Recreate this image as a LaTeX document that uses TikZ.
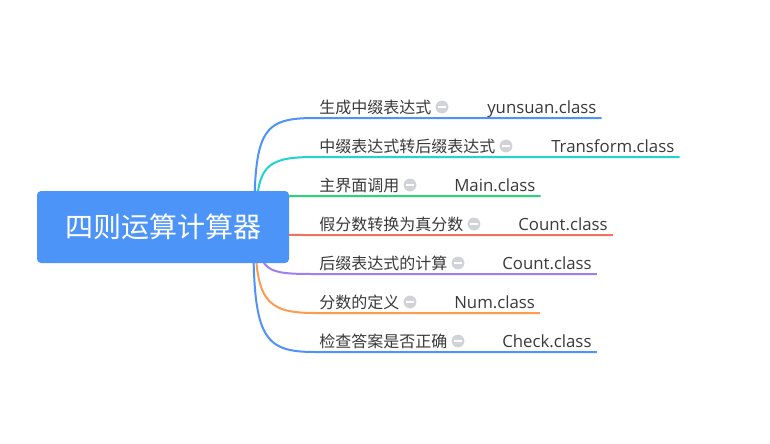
\documentclass[tikz,border=0pt]{standalone}
\usepackage{fontspec}
\newfontfamily\cjk{Noto Sans CJK SC}
\newfontfamily\lat{Open Sans}
\usetikzlibrary{calc,backgrounds}
\definecolor{cblue}{HTML}{4E92FA}
\definecolor{ccyan}{HTML}{22D3D0}
\definecolor{cgreen}{HTML}{2CD37C}
\definecolor{cred}{HTML}{F4705E}
\definecolor{cpurple}{HTML}{9F80F2}
\definecolor{corange}{HTML}{FF9B4E}
\definecolor{rootfill}{HTML}{4D94F9}
\definecolor{txt}{HTML}{3A3A3A}
\definecolor{icongray}{HTML}{D2D3D8}
\begin{document}
\begin{tikzpicture}[x=0.75pt,y=-0.75pt,
  rootbox/.style={fill=rootfill,rounded corners=3pt,minimum width=189pt,minimum height=54pt,inner sep=0pt,text=white,font=\cjk\fontsize{21}{24}\selectfont},
  ctext/.style={anchor=base west,inner sep=0pt,text=txt,font=\cjk\fontsize{12}{14}\selectfont},
  ktext/.style={anchor=base west,inner sep=0pt,text=txt,font=\lat\fontsize{12.6}{14}\selectfont},
  icon/.style={circle,fill=icongray,minimum size=9.6pt,inner sep=0pt,
    path picture={\draw[white,line width=1.5pt] ([xshift=-2.8pt]path picture bounding box.center) -- ([xshift=2.8pt]path picture bounding box.center);}},
  edge/.style={line width=1.5pt}]
\useasboundingbox (0,0) rectangle (770,443);

\node[rootbox] (root) at (163,227) {四则运算计算器};

\node[ctext] (t1) at (319,113) {生成中缀表达式};
\node[icon] (i1) at (442,107) {};
\node[ktext] (k1) at (487,113) {yunsuan.class};

\node[ctext] (t2) at (319,152) {中缀表达式转后缀表达式};
\node[icon] (i2) at (506,146) {};
\node[ktext] (k2) at (551,152) {Transform.class};

\node[ctext] (t3) at (319,191) {主界面调用};
\node[icon] (i3) at (410,185) {};
\node[ktext] (k3) at (454,191) {Main.class};

\node[ctext] (t4) at (319,230) {假分数转换为真分数};
\node[icon] (i4) at (474,224) {};
\node[ktext] (k4) at (518,230) {Count.class};

\node[ctext] (t5) at (319,269) {后缀表达式的计算};
\node[icon] (i5) at (458,263) {};
\node[ktext] (k5) at (502,269) {Count.class};

\node[ctext] (t6) at (319,308) {分数的定义};
\node[icon] (i6) at (410,302) {};
\node[ktext] (k6) at (454,308) {Num.class};

\node[ctext] (t7) at (319,347) {检查答案是否正确};
\node[icon] (i7) at (458,341) {};
\node[ktext] (k7) at (502,347) {Check.class};

\begin{scope}[on background layer]
\fill[white] (0,0) rectangle (770,443);
\draw[edge,cblue] ($(root.east)+(-35,0)$) .. controls (254,130) and (262,118) .. ($(t1.base west)+(-4,5)$) -- ($(k1.base east)+(5,5)$);
\draw[edge,ccyan] ($(root.east)+(-33,0)$) .. controls (256,166) and (264,157) .. ($(t2.base west)+(-4,5)$) -- ($(k2.base east)+(5,5)$);
\draw[edge,cgreen] ($(root.east)+(-30,0)$) .. controls (259,196) and (264,196) .. ($(t3.base west)+(-4,5)$) -- ($(k3.base east)+(5,5)$);
\draw[edge,cred] ($(root.east)+(-30,0)$) .. controls (259,235) and (264,235) .. ($(t4.base west)+(-4,5)$) -- ($(k4.base east)+(5,5)$);
\draw[edge,cpurple] ($(root.east)+(-31,0)$) .. controls (258,272) and (266,274) .. ($(t5.base west)+(-4,5)$) -- ($(k5.base east)+(5,5)$);
\draw[edge,corange] ($(root.east)+(-34,0)$) .. controls (255,300) and (265,313) .. ($(t6.base west)+(-4,5)$) -- ($(k6.base east)+(5,5)$);
\draw[edge,cblue] ($(root.east)+(-36,0)$) .. controls (253,337) and (262,352) .. ($(t7.base west)+(-4,5)$) -- ($(k7.base east)+(5,5)$);
\end{scope}
\end{tikzpicture}
\end{document}
